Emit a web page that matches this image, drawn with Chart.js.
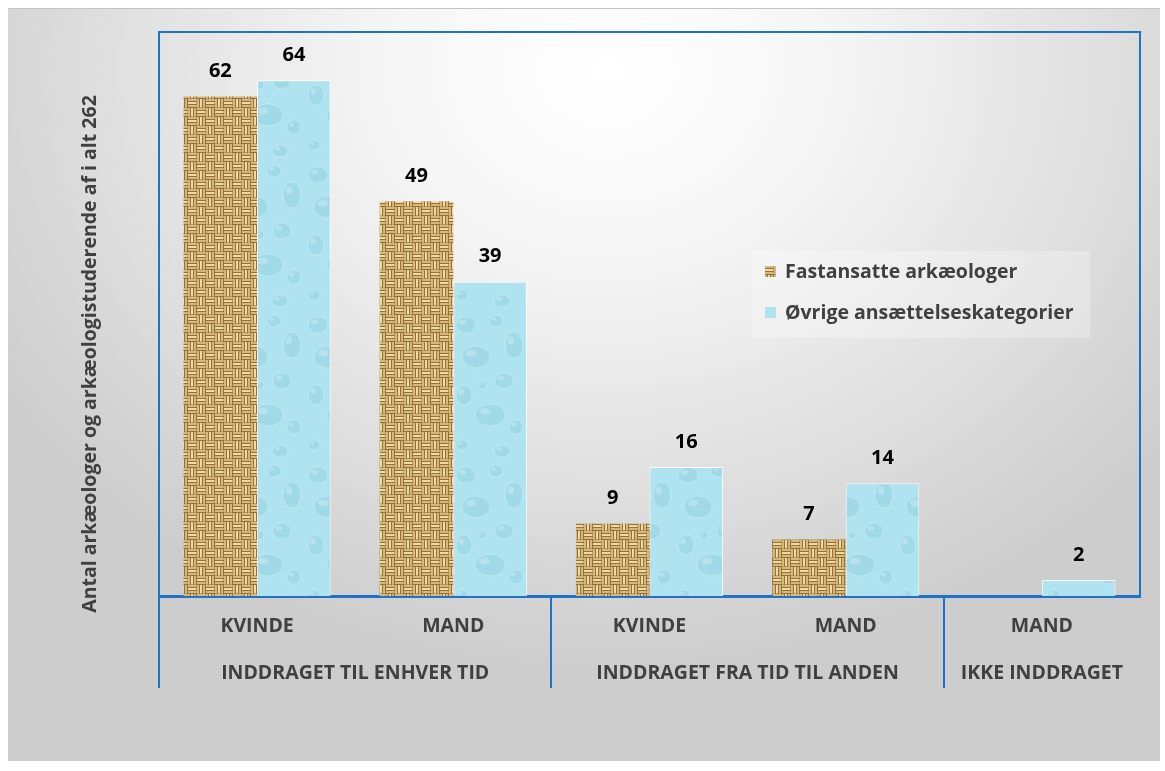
<!DOCTYPE html>
<html>
<head>
<meta charset="utf-8">
<script src="https://cdn.jsdelivr.net/npm/chart.js@4/dist/chart.umd.min.js"></script>
<style>
  html, body { margin: 0; padding: 0; background: #fff; }
  body { width: 1165px; height: 771px; position: relative; overflow: hidden; font-family: "Open Sans", sans-serif; }
  #panel {
    position: absolute; left: 8px; top: 8px; width: 1152px; height: 752px;
    border-top: 1px solid #c4c4c4;
    background: radial-gradient(ellipse 62% 80% at 52% 8%, #ffffff 0%, #f6f6f6 30%, #e2e2e2 65%, #cdcdcd 100%);
  }
  #chart { position: absolute; left: 0; top: 0; }
  #legend {
    position: absolute; left: 744px; top: 242px; width: 338px; height: 87px;
    background: rgba(255,255,255,0.28);
  }
  .item { position: absolute; left: 13px; font-weight: 700; font-size: 19.5px; line-height: 24px; color: #404040; white-space: nowrap; }
  .item span.sw { display: inline-block; width: 11px; height: 11px; margin-right: 9px; vertical-align: 1px; }
</style>
</head>
<body>
<div id="panel">
  <canvas id="chart" width="1152" height="752"></canvas>
  <div id="legend">
    <div class="item" style="top:8px"><span class="sw" id="sw0"></span>Fastansatte arkæologer</div>
    <div class="item" style="top:49px"><span class="sw" id="sw1"></span>Øvrige ansættelseskategorier</div>
  </div>
</div>
<script>
// data
const subLabels = ["KVINDE", "MAND", "KVINDE", "MAND", "MAND"];
// group axis runs in half-category steps (11 slots, no offset), so each group name sits under its own span
const groupLabels = ["", "", "INDDRAGET TIL ENHVER TID", "", "", "", "INDDRAGET FRA TID TIL ANDEN", "", "", "IKKE INDDRAGET", ""];
const groupDividers = [0, 2, 4, 5];   // grid line indexes that separate the groups
const seriesNames = ["Fastansatte arkæologer", "Øvrige ansættelseskategorier"];
const fastansatte = [62, 49, 9, 7, null];
const oevrige = [64, 39, 16, 14, 2];
const yTitle = "Antal arkæologer og arkæologistuderende af i alt 262";

const blue = "#1f72c6";
const textGray = "#404040";

// burlap look for the first series
function makeBurlap() {
    let c = document.createElement("canvas");
    c.width = 18; c.height = 18;
    let g = c.getContext("2d");
    g.fillStyle = "#94703a";
    g.fillRect(0, 0, 18, 18);
    for (let i = 0; i < 2; i++) {
        for (let j = 0; j < 2; j++) {
            let x0 = i * 9, y0 = j * 9;
            let horiz = (i + j) % 2 == 0;
            for (let k = 0; k < 3; k++) {
                let light = k == 1 ? "#efdba3" : "#d6b87c";
                if (horiz) {
                    g.fillStyle = light;
                    g.fillRect(x0, y0 + k * 3, 8, 2);
                    g.fillStyle = "#c2a062";
                    g.fillRect(x0 + 8, y0 + k * 3, 1, 2);
                } else {
                    g.fillStyle = light;
                    g.fillRect(x0 + k * 3, y0, 2, 8);
                    g.fillStyle = "#c2a062";
                    g.fillRect(x0 + k * 3, y0 + 8, 2, 1);
                }
            }
        }
    }
    return c;
}

// water drops look for the second series
function makeDrops() {
    let c = document.createElement("canvas");
    c.width = 74; c.height = 150;
    let g = c.getContext("2d");
    g.fillStyle = "#afe3ef";
    g.fillRect(0, 0, 74, 150);
    let drops = [[14, 16, 10, 8], [44, 12, 7, 6], [62, 36, 9, 13], [24, 48, 14, 11], [52, 72, 9, 8],
                 [12, 86, 8, 10], [38, 106, 15, 11], [64, 118, 7, 7], [10, 136, 6, 5], [30, 76, 4, 4], [50, 142, 8, 6]];
    drops.forEach(function(d) {
        g.beginPath();
        g.ellipse(d[0], d[1], d[2], d[3], 0, 0, Math.PI * 2);
        g.fillStyle = "rgba(110,185,208,0.22)";
        g.fill();
        g.strokeStyle = "rgba(225,248,255,0.35)";
        g.lineWidth = 1;
        g.stroke();
        g.beginPath();
        g.ellipse(d[0] - d[2] * 0.35, d[1] - d[3] * 0.35, d[2] * 0.35, d[3] * 0.3, 0, 0, Math.PI * 2);
        g.fillStyle = "rgba(255,255,255,0.25)";
        g.fill();
    });
    return c;
}

const burlap = makeBurlap();
const drops = makeDrops();
const ctx = document.getElementById("chart").getContext("2d");
const burlapFill = ctx.createPattern(burlap, "repeat");
const dropsFill = ctx.createPattern(drops, "repeat");

document.getElementById("sw0").style.background = "url(" + burlap.toDataURL() + ")";
document.getElementById("sw1").style.background = "url(" + drops.toDataURL() + ")";

Chart.defaults.font.family = "'Open Sans', sans-serif";

// frame around the plot area
const frame = {
    id: "frame",
    afterDraw(chart) {
        let a = chart.chartArea, c = chart.ctx;
        c.save();
        c.strokeStyle = blue;
        c.lineWidth = 2;
        c.beginPath();
        c.moveTo(a.left, a.bottom);
        c.lineTo(a.left, a.top);
        c.lineTo(a.right, a.top);
        c.lineTo(a.right, a.bottom);
        c.stroke();
        c.restore();
    }
};

// value labels above bars
const valueLabels = {
    id: "valueLabels",
    afterDatasetsDraw(chart) {
        let c = chart.ctx;
        c.save();
        c.font = "700 20px 'Open Sans', sans-serif";
        c.fillStyle = "#000";
        c.textAlign = "center";
        c.textBaseline = "middle";
        chart.data.datasets.forEach(function(ds, i) {
            chart.getDatasetMeta(i).data.forEach(function(bar, j) {
                if (ds.data[j] == null) return;
                c.fillText(ds.data[j], bar.x, bar.y - 25);
            });
        });
        c.restore();
    }
};

// y axis title, sits a bit lower than the axis centre
const sideTitle = {
    id: "sideTitle",
    afterDraw(chart) {
        let c = chart.ctx;
        c.save();
        c.translate(chart.chartArea.left - 69, chart.chartArea.bottom - 242);
        c.rotate(-Math.PI / 2);
        c.font = "700 19.5px 'Open Sans', sans-serif";
        c.fillStyle = textGray;
        c.textAlign = "center";
        c.textBaseline = "middle";
        c.fillText(yTitle, 0, 0);
        c.restore();
    }
};

new Chart(ctx, {
    type: "bar",
    data: {
        labels: subLabels,
        datasets: [
            { label: seriesNames[0], data: fastansatte, backgroundColor: burlapFill, borderWidth: 0 },
            { label: seriesNames[1], data: oevrige, backgroundColor: dropsFill, borderColor: "rgba(255,255,255,0.85)", borderWidth: 1 }
        ]
    },
    options: {
        responsive: false,
        animation: false,
        layout: { padding: { left: 151, right: 19, top: 23, bottom: 59 } },
        datasets: { bar: { categoryPercentage: 0.75, barPercentage: 1 } },
        plugins: {
            legend: { display: false },
            tooltip: { enabled: false }
        },
        scales: {
            y: { display: false, min: 0, max: 70 },
            x: {
                weight: 0,
                grid: {
                    offset: true,
                    drawOnChartArea: false,
                    tickLength: 92,
                    lineWidth: 2,
                    color: function(c) { return groupDividers.includes(c.index) ? blue : "rgba(0,0,0,0)"; }
                },
                border: { display: true, color: blue, width: 3 },
                ticks: { padding: -73, color: textGray, font: { size: 19.5, weight: "700" }, maxRotation: 0 },
                afterFit: function(s) { s.height = 46; }
            },
            x2: {
                type: "category",
                labels: groupLabels,
                position: "bottom",
                weight: 1,
                offset: false,
                grid: { display: false, drawTicks: false },
                border: { display: false },
                ticks: {
                    autoSkip: false,
                    padding: 20,
                    color: textGray,
                    font: { size: 19.5, weight: "700" },
                    maxRotation: 0
                },
                afterFit: function(s) { s.height = 60; }
            }
        }
    },
    plugins: [frame, valueLabels, sideTitle]
});
</script>
</body>
</html>
